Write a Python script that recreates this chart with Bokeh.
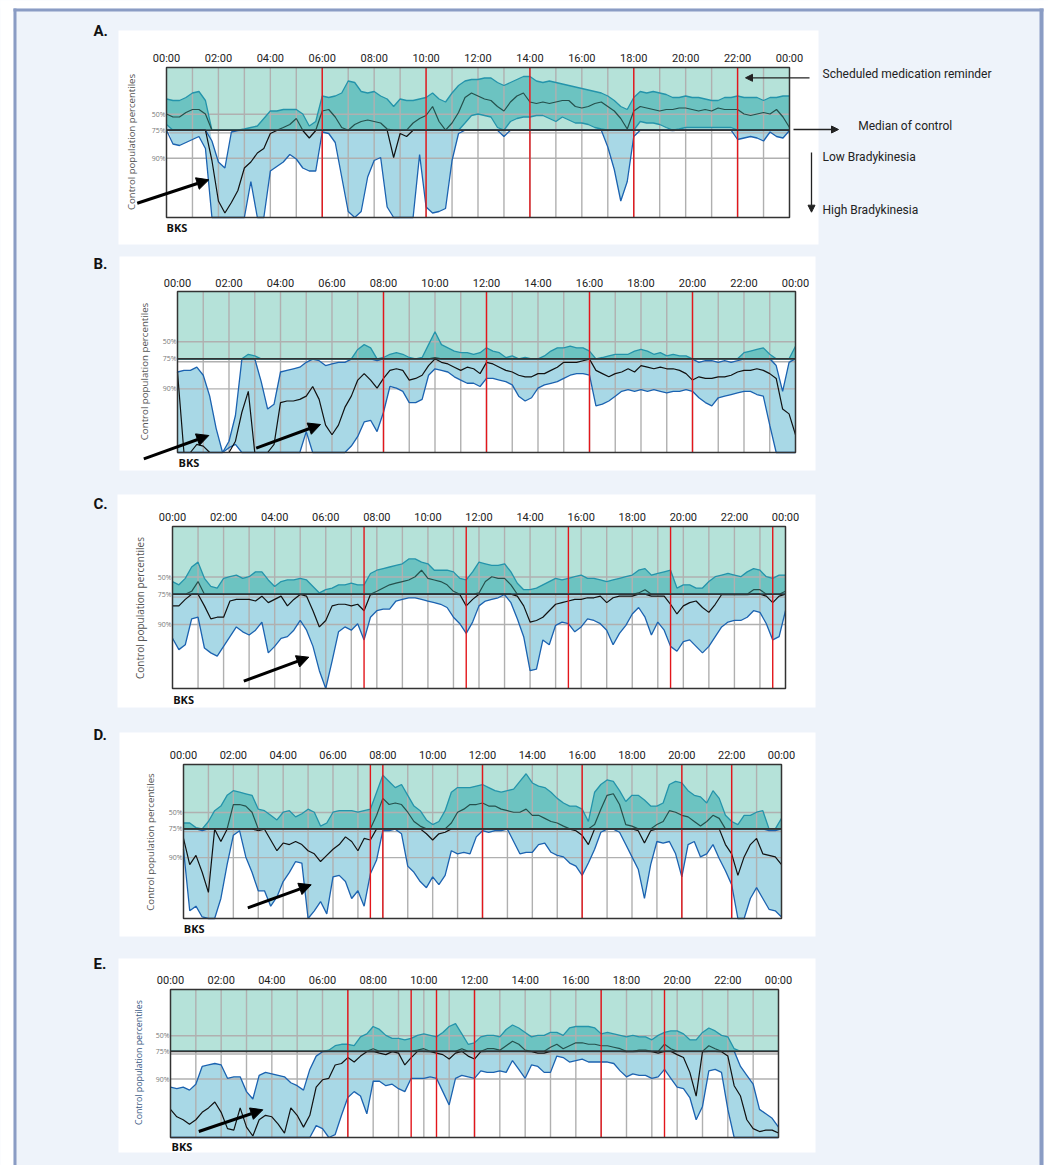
import numpy as np
from bokeh.plotting import figure
from bokeh.models import Range1d, Arrow, NormalHead
from bokeh.core.properties import value
from bokeh.embed import file_html
from bokeh.resources import INLINE

# ---------------- data ----------------
HOURS = [i / 4 for i in range(97)]          # 00:00 .. 24:00, 15-minute samples
HOUR_TICKS = list(range(0, 25, 2))
HOUR_LABELS = ["%02d:00" % (h % 24) for h in HOUR_TICKS]
GRID_HOURS = list(range(1, 24))
PCT_POS = [68.8, 58.2, 39.5]               # position of control percentiles on score scale
PCT_LABELS = ["50%", "75%", "90%"]
Y75 = 58.2
Y_MIN, Y_MAX = 0, 100

A_UP = [79,78,78,80, 83,84,78,51, 37,33,57,58, 59,60,61,66, 71,71,72,72, 72,69,61,64,
        81,80,81,83, 91,90,84,83, 84,81,79,74, 79,78,78,79, 80,83,79,77, 83,88,91,92,
        92,93,93,90, 88,90,92,94, 94,91,90,91, 90,89,88,87, 86,85,84,83, 81,78,74,72,
        80,84,83,84, 83,82,80,80, 81,80,80,79, 78,78,80,80, 81,80,80,80, 78,80,80,81, 81]
A_MED = [69,67,67,70, 72,72,69,38, 11,3,10,18, 33,37,43,46, 56,58,60,62, 66,58,53,58,
         71,72,67,60, 58,62,64,65, 64,63,59,40, 56,54,63,66, 68,74,64,58, 63,70,80,83,
         81,79,78,74, 71,77,81,83, 77,76,77,76, 77,78,78,74, 73,74,76,77, 74,71,66,59,
         71,74,73,72, 71,72,72,73, 73,72,71,72, 71,73,72,72, 72,69,68,69, 70,69,72,67, 60]
A_LOW = [62,49,48,50, 52,54,46,0, 0,0,0,0, 0,24,0,0, 31,34,37,42, 39,33,31,31,
         57,56,50,27, 4,0,4,27, 38,40,7,0, 0,0,0,42, 7,3,4,6, 38,56,63,68,
         69,68,67,60, 54,64,66,67, 67,68,68,66, 64,67,65,63, 63,62,60,59, 47,32,11,24,
         54,64,63,63, 62,60,58,59, 60,60,60,60, 60,60,60,60, 52,53,54,53, 51,57,54,53, 58]
A_REMIND = [6, 10, 14, 18, 22]

B_UP = [50,51,51,53, 48,35,15,0, 7,23,58,61, 60,44,27,30, 50,51,52,53, 56,58,57,54,
        55,56,56,58, 64,67,65,57, 59,61,62,61, 59,58,59,67, 75,67,65,63, 62,62,61,62,
        65,63,62,59, 60,58,59,58, 58,60,63,65, 65,66,65,65, 63,58,59,60, 61,61,61,63,
        64,63,61,62, 60,61,60,60, 58,56,57,57, 56,57,56,57, 62,63,64,65, 61,54,38,56, 66]
B_MED = [50,0,0,5, 4,0,0,0, 0,7,25,38, 0,0,0,5, 31,32,32,33, 35,41,33,17,
         11,17,28,35, 45,49,45,40, 46,51,52,51, 45,46,48,54, 59,56,55,53, 51,53,52,49,
         56,55,53,51, 50,48,47,47, 49,49,51,53, 56,56,56,57, 58,51,49,47, 49,50,52,50,
         54,53,52,53, 52,52,51,49, 45,47,46,46, 47,47,48,50, 51,51,52,51, 49,46,27,24, 11]
B_LOW = [0,0,0,0, 0,0,0,0, 3,5,0,0, 0,0,0,0, 0,0,0,0, 13,0,0,0,
         0,0,0,4, 10,19,20,13, 25,41,40,38, 31,31,33,48, 52,51,50,47, 45,43,43,41,
         46,46,45,44, 42,35,32,34, 40,42,43,44, 46,48,49,49, 48,29,30,32, 35,38,39,38,
         39,38,39,38, 37,38,38,39, 38,34,31,29, 34,35,36,37, 38,38,36,35, 17,0,0,0, 0]
B_REMIND = [8, 12, 16, 20]

C_UP = [66,64,68,75, 78,68,63,62, 68,69,70,68, 69,72,72,67, 63,66,67,67, 68,67,63,59,
        61,62,64,64, 65,64,64,71, 73,74,75,76, 77,80,80,78, 77,73,73,73, 72,68,67,72,
        78,77,76,76, 77,72,65,61, 61,62,64,66, 68,67,68,69, 70,68,68,67, 66,67,68,69,
        70,73,74,70, 71,72,73,62, 64,64,62,62, 66,69,70,71, 70,69,72,74, 73,69,68,70, 70]
C_MED = [51,51,55,60, 66,51,43,44, 44,54,55,55, 55,54,57,53, 55,57,51,55, 58,57,48,38,
         42,51,52,52, 51,52,48,58, 60,62,64,65, 66,67,69,73, 68,67,66,64, 60,58,51,55,
         59,66,69,68, 68,64,57,51, 41,42,44,48, 52,53,54,55, 55,56,56,57, 53,56,57,57,
         57,59,61,57, 57,57,52,46, 51,53,54,50, 47,52,58,58, 58,58,58,61, 61,57,53,57, 60]
C_LOW = [31,24,27,43, 44,25,22,20, 26,32,38,35, 33,36,41,22, 26,31,32,36, 42,36,26,11,
         0,17,35,38, 36,40,30,44, 48,49,49,54, 55,56,56,55, 54,53,52,50, 44,40,34,41,
         51,54,55,56, 58,53,43,32, 11,12,30,27, 39,41,40,35, 38,43,42,40, 36,27,34,39,
         46,50,44,33, 41,36,26,23, 29,30,26,22, 26,32,38,41, 42,42,44,48, 47,40,30,32, 48]
C_REMIND = [7.5, 11.5, 15.5, 19.5, 23.5]

D_UP = [62,62,59,57, 63,70,73,80, 83,82,81,80, 71,70,67,64, 69,70,66,68, 71,69,60,62,
        69,70,70,70, 69,70,71,82, 93,89,85,87, 80,73,70,64, 61,63,70,82, 85,85,85,86,
        87,85,83,82, 83,84,89,94, 88,86,85,82, 78,75,73,73, 71,63,82,87, 90,89,83,76,
        80,80,77,73, 73,75,87,89, 88,83,80,79, 75,83,78,67, 63,61,67,67, 69,70,57,57, 65]
D_MED = [52,35,41,30, 17,58,50,58, 74,74,73,69, 57,58,51,44, 49,48,50,48, 44,42,37,41,
         45,48,53,50, 44,52,51,67, 78,74,75,74, 69,63,60,55, 51,55,56,62, 69,71,74,74,
         75,73,73,71, 70,69,69,71, 67,67,65,63, 62,60,58,57, 54,48,61,71, 80,81,74,61,
         60,57,49,57, 61,63,70,69, 67,66,63,60, 63,67,65,48, 42,28,40,48, 52,42,41,40, 35]
D_LOW = [45,5,8,1, 0,0,13,35, 54,57,40,30, 18,18,8,14, 24,30,37,36, 0,5,11,3,
         27,28,24,13, 18,8,29,38, 57,57,58,55, 34,30,24,20, 27,22,28,44, 42,43,42,53,
         57,56,57,57, 58,50,42,43, 43,48,49,43, 41,40,36,34, 28,36,45,56, 58,58,56,48,
         40,32,13,35, 50,49,50,42, 27,48,50,40, 42,48,39,31, 22,0,0,13, 20,13,6,5, 1]
D_REMIND = [7.5, 8, 12, 16, 20, 22]

E_UP = [34,33,34,32, 36,48,49,50, 49,40,41,41, 31,26,42,44, 43,42,41,37, 35,32,46,55,
        58,59,62,63, 63,62,68,70, 75,73,69,67, 67,66,67,69, 70,69,68,71, 75,77,70,63,
        64,68,69,69, 68,73,76,74, 71,68,69,69, 71,71,69,74, 75,75,75,74, 70,71,70,69,
        68,69,68,68, 66,69,71,72, 72,70,66,66, 71,74,72,69, 68,60,48,42, 36,19,16,13, 7]
E_MED = [19,14,12,9, 12,17,20,24, 17,6,5,20, 7,1,12,15, 14,9,3,20, 15,7,15,34,
         39,40,49,50, 54,51,55,58, 60,57,56,58, 57,49,54,59, 60,58,57,56, 53,57,60,55,
         53,58,60,60, 59,62,65,63, 59,58,57,57, 61,63,60,62, 64,64,63,63, 62,62,61,60,
         58,58,59,59, 58,57,63,60, 56,54,44,28, 58,62,60,58, 55,35,28,12, 6,4,5,5, 3]
E_LOW = [0,0,0,0, 0,0,0,0, 0,0,0,0, 0,0,0,0, 0,0,0,0, 0,0,0,8,
         6,0,2,15, 27,31,28,16, 38,38,35,36, 33,31,40,40, 40,41,40,31, 22,40,42,41,
         40,45,44,44, 45,44,52,46, 40,49,48,44, 44,55,54,51, 52,53,51,51, 51,51,50,45,
         41,43,42,42, 40,41,46,40, 34,33,27,12, 21,45,46,44, 19,0,0,0, 0,0,0,0, 0]
E_REMIND = [7, 9.5, 10.5, 12, 17, 19.5]

# ---------------- styling / layout (page pixels) ----------------
PAGE_W, PAGE_H = 1048, 1165
PAGE_BG = "#eef3fa"
BORDER = "#8a9cc4"
LIGHT_TEAL = "#b5e2d9"
DARK_TEAL = "#6cc3c1"
LIGHT_BLUE = "#a8d8e6"
LINE_TEAL = "#2494ab"
LINE_BLUE = "#1b62b0"
MED_BLACK = "#111111"
MED_TEAL = "#25504c"
GRID = "#b0b0b0"
RED = "#e3161b"
TITLE = "Control population percentiles"

PANELS = [
    dict(name="A", up=A_UP, med=A_MED, low=A_LOW, rem=A_REMIND,
         frame=(166, 67, 623, 150), box=(118, 30, 818, 244),
         tick_y=58.3, letter_xy=(93, 30), title_xy=(130.7, 141.5), title_size="9.6px",
         title_color="#555555", bks_xy=(166, 226.7), arrows=[((136.7, 202.7), (208.3, 179.3))]),
    dict(name="B", up=B_UP, med=B_MED, low=B_LOW, rem=B_REMIND,
         frame=(177, 291, 618, 161), box=(119, 256, 815, 470),
         tick_y=283.3, letter_xy=(93, 263), title_xy=(144.3, 371), title_size="9.7px",
         title_color="#555555", bks_xy=(178, 462.3),
         arrows=[((143.3, 458.3), (208.3, 435)), ((255.7, 447.7), (320, 424))]),
    dict(name="C", up=C_UP, med=C_MED, low=C_LOW, rem=C_REMIND,
         frame=(172, 526, 613, 162), box=(117, 494, 815, 707),
         tick_y=516.7, letter_xy=(93, 503), title_xy=(139.3, 607.5), title_size="10px",
         title_color="#555555", bks_xy=(172.7, 699), arrows=[((243.3, 680.7), (308.3, 656.7))]),
    dict(name="D", up=D_UP, med=D_MED, low=D_LOW, rem=D_REMIND,
         frame=(183, 764, 598, 154), box=(119, 732, 815, 936),
         tick_y=755, letter_xy=(93, 734), title_xy=(150, 841.5), title_size="9.7px",
         title_color="#555555", bks_xy=(183.3, 927.7), arrows=[((247.3, 907.3), (310.7, 884.3))]),
    dict(name="E", up=E_UP, med=E_MED, low=E_LOW, rem=E_REMIND,
         frame=(170, 989, 608, 148), box=(118, 958, 815, 1152),
         tick_y=980, letter_xy=(93, 963), title_xy=(138.3, 1062), title_size="8.8px",
         title_color="#3b5b85", bks_xy=(171, 1145.7), arrows=[((198.3, 1131), (262.3, 1109.3))]),
]

# one canvas for the whole page; default ranges are page pixels (y downward)
p = figure(width=PAGE_W, height=PAGE_H,
           x_range=Range1d(0, PAGE_W), y_range=Range1d(PAGE_H, 0),
           x_axis_type=None, y_axis_type=None, min_border=0,
           min_border_left=0, min_border_right=0, min_border_top=0, min_border_bottom=0,
           output_backend="svg", toolbar_location=None,
           background_fill_color=PAGE_BG, border_fill_color=PAGE_BG)
p.outline_line_color = None
p.grid.visible = False

# page frame
p.quad(left=-5, right=13, bottom=PAGE_H + 5, top=-5, fill_color="white", line_color=None)
p.quad(left=1043, right=PAGE_W + 5, bottom=PAGE_H + 5, top=-5, fill_color="white", line_color=None)
p.quad(left=-5, right=PAGE_W + 5, bottom=8, top=-5, fill_color="white", line_color=None)
p.quad(left=13, right=16, bottom=PAGE_H + 5, top=8, fill_color=BORDER, line_color=None)
p.quad(left=1039, right=1043, bottom=PAGE_H + 5, top=8, fill_color=BORDER, line_color=None)
p.quad(left=13, right=1043, bottom=11, top=8, fill_color=BORDER, line_color=None)

for spec in PANELS:
    fl, ft, fw, fh = spec["frame"]
    span_x = HOURS[-1] - HOURS[0]
    span_y = Y_MAX - Y_MIN

    def hx(px, fl=fl, fw=fw):
        return HOURS[0] + (px - fl) / fw * span_x

    def vy(py, ft=ft, fh=fh):
        return Y_MIN + (ft + fh - py) / fh * span_y

    rn = spec["name"]
    p.extra_x_ranges[rn] = Range1d(hx(0), hx(PAGE_W))
    p.extra_y_ranges[rn] = Range1d(vy(PAGE_H), vy(0))
    kw = dict(x_range_name=rn, y_range_name=rn)

    # white panel box (page pixels)
    bl, bt, br, bb = spec["box"]
    p.quad(left=bl, right=br, bottom=bb, top=bt, fill_color="white", line_color=None)

    up = np.array(spec["up"], float)
    med = np.array(spec["med"], float)
    low = np.array(spec["low"], float)

    # control region above the 75th percentile
    p.quad(left=HOURS[0], right=HOURS[-1], bottom=Y75, top=Y_MAX,
           fill_color=LIGHT_TEAL, line_color=None, **kw)
    # patient band
    p.varea(x=HOURS, y1=low, y2=up, fill_color=LIGHT_BLUE, **kw)
    p.varea(x=HOURS, y1=np.maximum(low, Y75), y2=np.maximum(up, Y75), fill_color=DARK_TEAL, **kw)

    # grid
    p.segment(x0=GRID_HOURS, y0=Y_MIN, x1=GRID_HOURS, y1=Y_MAX, line_color=GRID, line_width=1.4, **kw)
    hgrid = [PCT_POS[0], PCT_POS[1] - 1.8, PCT_POS[2]]
    p.segment(x0=HOURS[0], y0=hgrid, x1=HOURS[-1], y1=hgrid, line_color=GRID, line_width=1.4, **kw)

    # envelope lines and median
    for arr in (up, low):
        p.line(HOURS, np.minimum(arr, Y75), line_color=LINE_BLUE, line_width=1.3, **kw)
        p.line(HOURS, np.maximum(arr, Y75), line_color=LINE_TEAL, line_width=1.3, **kw)
    p.line(HOURS, np.minimum(med, Y75), line_color=MED_BLACK, line_width=1.2, **kw)
    p.line(HOURS, np.maximum(med, Y75), line_color=MED_TEAL, line_width=1.2, **kw)

    # medication reminders
    p.segment(x0=spec["rem"], y0=Y_MIN, x1=spec["rem"], y1=Y_MAX, line_color=RED, line_width=1.4, **kw)
    # median of control
    p.segment(x0=HOURS[0], y0=Y75, x1=HOURS[-1], y1=Y75, line_color="#333333", line_width=1.6, **kw)
    # panel outline
    p.quad(left=HOURS[0], right=HOURS[-1], bottom=Y_MIN, top=Y_MAX, fill_color=None,
           line_color="#333333", line_width=1.5, **kw)

    # axis texts
    p.text(x=HOUR_TICKS, y=[vy(spec["tick_y"])] * len(HOUR_TICKS), text=HOUR_LABELS,
           text_font=value("Roboto"), text_font_size="11px", text_color="#222222",
           text_align="center", text_baseline="middle", **kw)
    p.text(x=[HOURS[0]] * len(PCT_POS), y=PCT_POS, text=PCT_LABELS, x_offset=-1,
           text_font=value("Open Sans"), text_font_size="7px", text_color="#777777",
           text_align="right", text_baseline="middle", **kw)
    tx, ty = spec["title_xy"]
    p.text(x=[tx], y=[ty], text=[TITLE], angle=np.pi / 2,
           text_font=value("Open Sans"), text_font_size=spec["title_size"],
           text_color=spec["title_color"], text_align="center", text_baseline="middle")
    kx, ky = spec["bks_xy"]
    p.text(x=[kx], y=[ky], text=["BKS"], text_font=value("Open Sans"),
           text_font_style="bold", text_font_size="11px", text_color="#111111",
           text_align="left", text_baseline="middle")
    lx, ly = spec["letter_xy"]
    p.text(x=[lx], y=[ly], text=[spec["name"] + "."], text_font=value("Roboto"),
           text_font_style="bold", text_font_size="15px", text_color="#111111",
           text_align="left", text_baseline="middle")

    for (x0, y0), (x1, y1) in spec["arrows"]:
        p.add_layout(Arrow(x_start=x0, y_start=y0, x_end=x1, y_end=y1,
                           line_color="black", line_width=3,
                           end=NormalHead(size=12, fill_color="black", line_color="black")))

# legend-like notes next to panel A
notes = [("Scheduled medication  reminder", 822, 73.3),
         ("Median of control", 857.7, 125.3),
         ("Low Bradykinesia", 822, 156.7),
         ("High Bradykinesia", 822, 209.3)]
p.text(x=[n[1] for n in notes], y=[n[2] for n in notes], text=[n[0] for n in notes],
       text_font=value("Roboto"), text_font_size="12px", text_color="#222222",
       text_align="left", text_baseline="middle")
for (x0, y0), (x1, y1) in [((809, 77.3), (745, 77.3)), ((793, 129), (838, 129)),
                           ((811, 152), (811, 211.7))]:
    p.add_layout(Arrow(x_start=x0, y_start=y0, x_end=x1, y_end=y1,
                       line_color="#222222", line_width=1.3,
                       end=NormalHead(size=7, fill_color="#222222", line_color="#222222")))

open("out.html", "w").write(file_html(p, INLINE, title="Bradykinesia"))
